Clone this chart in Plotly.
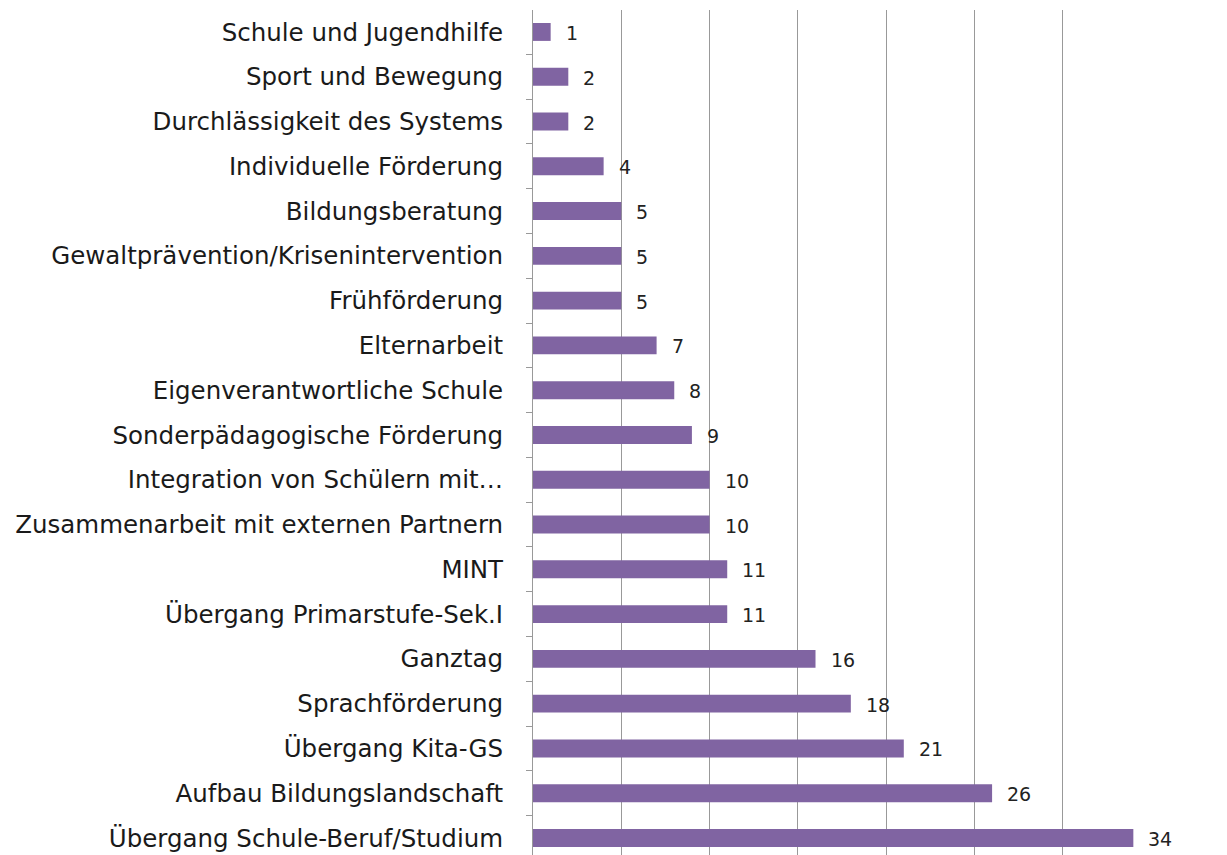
import plotly.graph_objects as go

categories = [
    "Schule und Jugendhilfe",
    "Sport und Bewegung",
    "Durchlässigkeit des Systems",
    "Individuelle Förderung",
    "Bildungsberatung",
    "Gewaltprävention/Krisenintervention",
    "Frühförderung",
    "Elternarbeit",
    "Eigenverantwortliche Schule",
    "Sonderpädagogische Förderung",
    "Integration von Schülern mit…",
    "Zusammenarbeit mit externen Partnern",
    "MINT",
    "Übergang Primarstufe-Sek.I",
    "Ganztag",
    "Sprachförderung",
    "Übergang Kita-GS",
    "Aufbau Bildungslandschaft",
    "Übergang Schule-Beruf/Studium",
]
values = [1, 2, 2, 4, 5, 5, 5, 7, 8, 9, 10, 10, 11, 11, 16, 18, 21, 26, 34]

cats_rev = categories[::-1]
vals_rev = values[::-1]

BAR = "#8064A2"
FONT = "DejaVu Sans"

fig = go.Figure()
fig.add_trace(go.Bar(
    x=vals_rev, y=cats_rev, orientation="h",
    marker=dict(color=BAR, line=dict(width=0)),
    width=0.4, hoverinfo="x+y",
))

for v, c in zip(vals_rev, cats_rev):
    fig.add_annotation(x=v, y=c, text=str(v), showarrow=False,
                       xanchor="left", yanchor="middle", xshift=13, yshift=-1,
                       font=dict(family=FONT, size=19, color="#222222"))

fig.update_layout(
    width=1227, height=855,
    margin=dict(l=533, r=76, t=10, b=0),
    paper_bgcolor="white", plot_bgcolor="white",
    showlegend=False,
    font=dict(family=FONT, size=24, color="#1a1a1a"),
    xaxis=dict(range=[0, 35], dtick=5, showticklabels=False, showgrid=True,
               gridcolor="#999999", gridwidth=1, zeroline=False,
               showline=False, ticks=""),
    yaxis=dict(type="category", categoryorder="array", categoryarray=cats_rev,
               range=[-0.38, 18.49], showline=True, linecolor="#999999",
               linewidth=1, ticks="outside", tickson="boundaries", ticklen=6,
               tickcolor="#999999", showgrid=False, automargin=False,
               tickfont=dict(family=FONT, size=24.5, color="#1a1a1a")),
)
fig.update_yaxes(ticklabelstandoff=24)

fig.write_html(
    "out.html",
    config={"displayModeBar": False},
    post_script="document.body.style.margin='0';document.body.style.overflow='hidden';",
)
